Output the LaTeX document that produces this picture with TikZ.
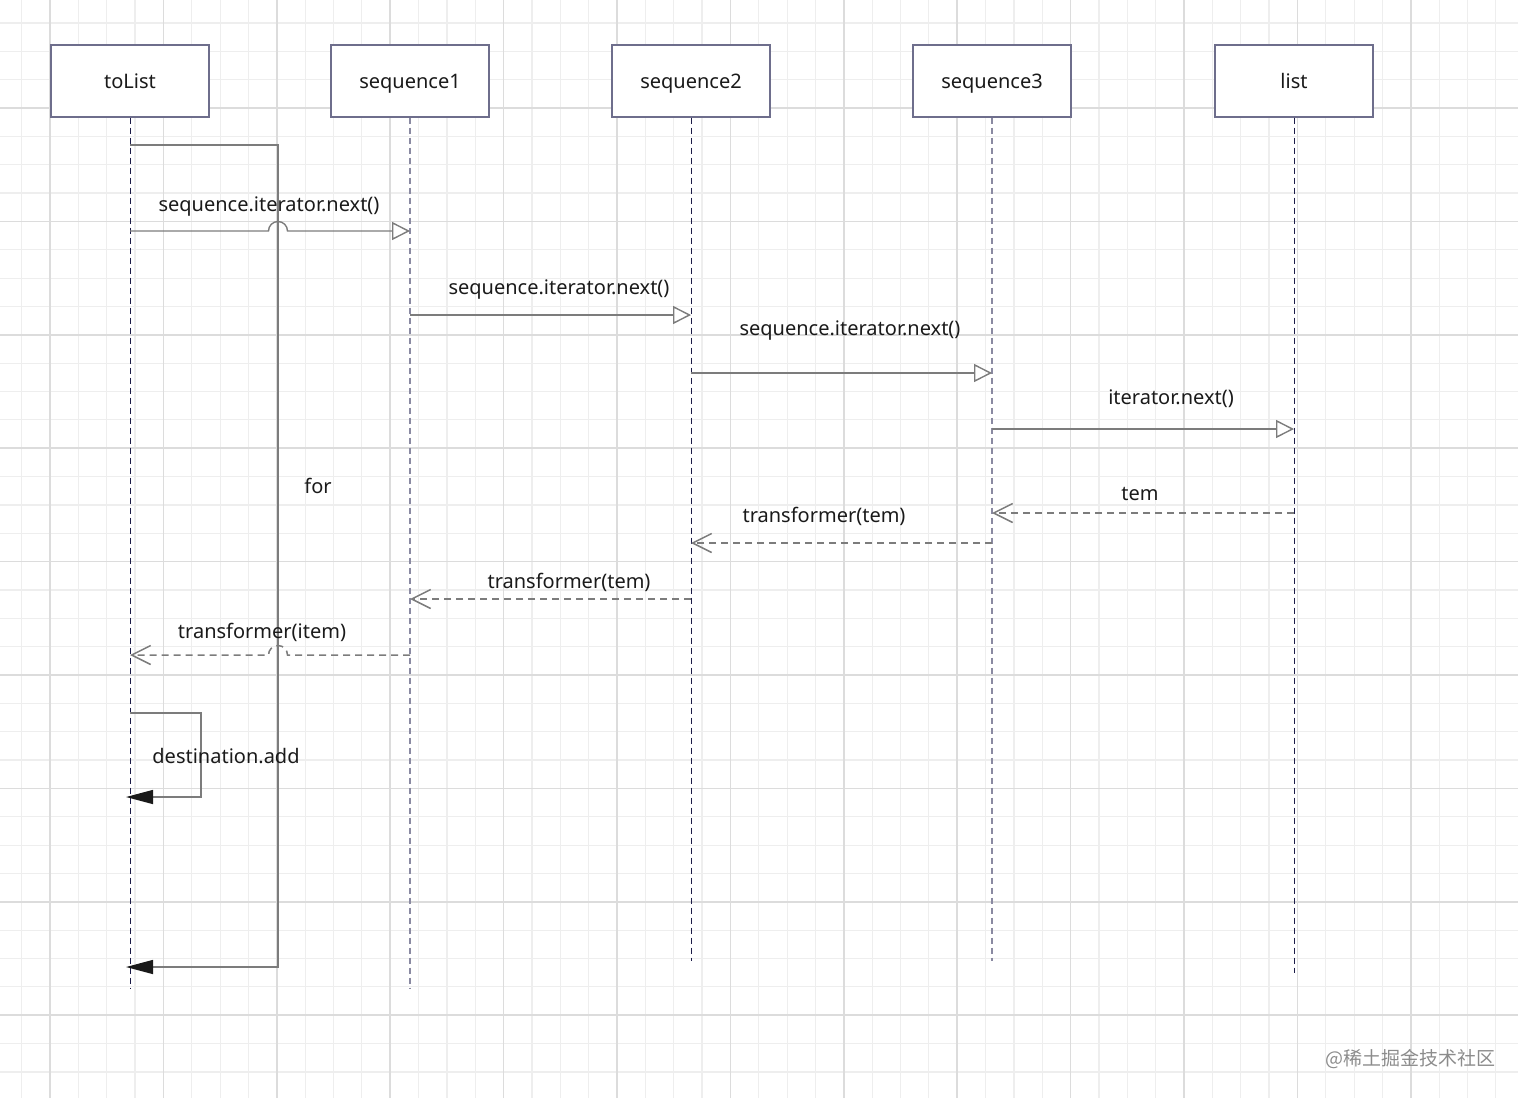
\documentclass[tikz,border=0pt]{standalone}
\usepackage{fontspec}
\setmainfont{Noto Sans}
\newfontfamily\cjkfont{Noto Sans CJK SC}
\usetikzlibrary{arrows.meta, calc}
\definecolor{gridminor}{HTML}{EEEEEE}
\definecolor{gridmajor}{HTML}{DCDCDC}
\definecolor{boxline}{HTML}{6E6E8C}
\definecolor{lifedark}{HTML}{1C1C48}
\definecolor{lifegray}{HTML}{8A8AA2}
\definecolor{msgline}{HTML}{7C7C7C}
\definecolor{txt}{HTML}{1A1A1A}
\tikzstyle{object} = [rectangle, 
minimum width=79pt, 
minimum height=36pt, 
text centered, 
text height=7.5pt, text depth=0.5pt, 
draw=boxline, line width=0.65pt, 
fill=white, text=txt, 
font=\fontsize{10}{12}\selectfont]
\tikzstyle{lifedk} = [draw=lifedark, line width=0.5pt, dash pattern=on 3pt off 2pt]
\tikzstyle{lifegr} = [draw=lifegray, line width=0.75pt, dash pattern=on 3pt off 2pt]
\tikzstyle{call} = [draw=msgline, line width=0.7pt, -{Triangle[open, length=9pt, width=9pt]}]
\tikzstyle{reply} = [draw=msgline, line width=0.75pt, 
dash pattern=on 3.5pt off 2.5pt, 
-{Straight Barb[length=9.5pt, width=9.5pt]}]
\tikzstyle{loopline} = [draw=msgline, line width=0.7pt, shorten >=-2pt, 
-{Triangle[length=13.5pt, width=7pt, color=txt]}]
\tikzstyle{lbl} = [text=txt, font=\fontsize{10}{12}\selectfont]

\begin{document}
\begin{tikzpicture}[x=0.5pt, y=-0.5pt, node distance=140pt]
\useasboundingbox (0,0) rectangle (1518,1098);

% background grid
\foreach \gx in {21.65,50,...,1510}
  \draw[gridminor, line width=0.6pt] (\gx,0) -- (\gx,1098);
\foreach \gy in {22.95,51.3,...,1090}
  \draw[gridminor, line width=0.6pt] (0,\gy) -- (1518,\gy);
\foreach \gx in {50,163.4,...,1510}
  \draw[gridmajor, line width=0.8pt] (\gx,0) -- (\gx,1098);
\foreach \gy in {108,221.4,...,1090}
  \draw[gridmajor, line width=0.8pt] (0,\gy) -- (1518,\gy);

\node (toList) [object] at (130,81) {toList};
\node (seqA) [object, right of=toList] {sequence1};
\node (seqB) [object, right of=seqA, xshift=0.5pt] {sequence2};
\node (seqC) [object, right of=seqB, xshift=10.5pt] {sequence3};
\node (list) [object, right of=seqC, xshift=11pt] {list};

% lifelines
\draw [lifedk] (toList.south) -- ++(0,871);
\draw [lifegr] (seqA.south) -- ++(0,871);
\draw [lifedk] (seqB.south) -- ++(0,843);
\draw [lifegr] (seqC.south) -- ++(0,843);
\draw [lifedk] (list.south) -- ++(0,855);

\coordinate (r1) at (0,231);
\coordinate (r2) at (0,315);
\coordinate (r3) at (0,373);
\coordinate (r4) at (0,429);
\coordinate (r5) at (0,513);
\coordinate (r6) at (0,543);
\coordinate (r7) at (0,599);
\coordinate (r8) at (0,655);

% for loop
\coordinate (forTop) at (278,145);
\coordinate (forBot) at (278,967);
\draw [loopline] (toList |- forTop) -- (forTop) -- (forBot) -- (toList |- forBot);
\node (forLbl) [lbl] at (318,486) {for};

\draw [call] (toList |- r1) -- ([xshift=-4.75pt]forTop |- r1)
  arc[start angle=180, end angle=0, radius=4.75pt] -- (seqA |- r1);
\node (lblA) [lbl] at (269,207) {sequence.iterator.next()};
\draw [call] (seqA |- r2) -- node[lbl, yshift=12.5pt, xshift=4.25pt] {sequence.iterator.next()} (seqB |- r2);
\draw [call] (seqB |- r3) -- node[lbl, yshift=21pt, xshift=4.25pt] {sequence.iterator.next()} (seqC |- r3);
\draw [call] (seqC |- r4) -- node[lbl, yshift=15pt, xshift=14pt] {iterator.next()} (list |- r4);

\draw [reply] (list |- r5) -- node[lbl, yshift=9.5pt, xshift=-1.5pt] {tem} (seqC |- r5);
\draw [reply] (seqC |- r6) -- node[lbl, yshift=13.5pt, xshift=-8.75pt] {transformer(tem)} (seqB |- r6);
\draw [reply] (seqB |- r7) -- node[lbl, yshift=8.5pt, xshift=9.25pt] {transformer(tem)} (seqA |- r7);
\draw [reply] (seqA |- r8) -- ([xshift=4.75pt]forTop |- r8)
  arc[start angle=0, end angle=180, radius=4.75pt] -- (toList |- r8);
\node (lblH) [lbl] at (262,632) {transformer(item)};

% self call
\coordinate (selfTop) at (201,713);
\coordinate (selfBot) at (201,797);
\draw [loopline] (toList |- selfTop) -- (selfTop) -- (selfBot) -- (toList |- selfBot);
\node (selfLbl) [lbl] at (226,756) {destination.add};

\node (mark) [text=black!45, font=\cjkfont\fontsize{9.5}{11}\selectfont] at (1410,1059) {@稀土掘金技术社区};

\end{tikzpicture}
\end{document}
